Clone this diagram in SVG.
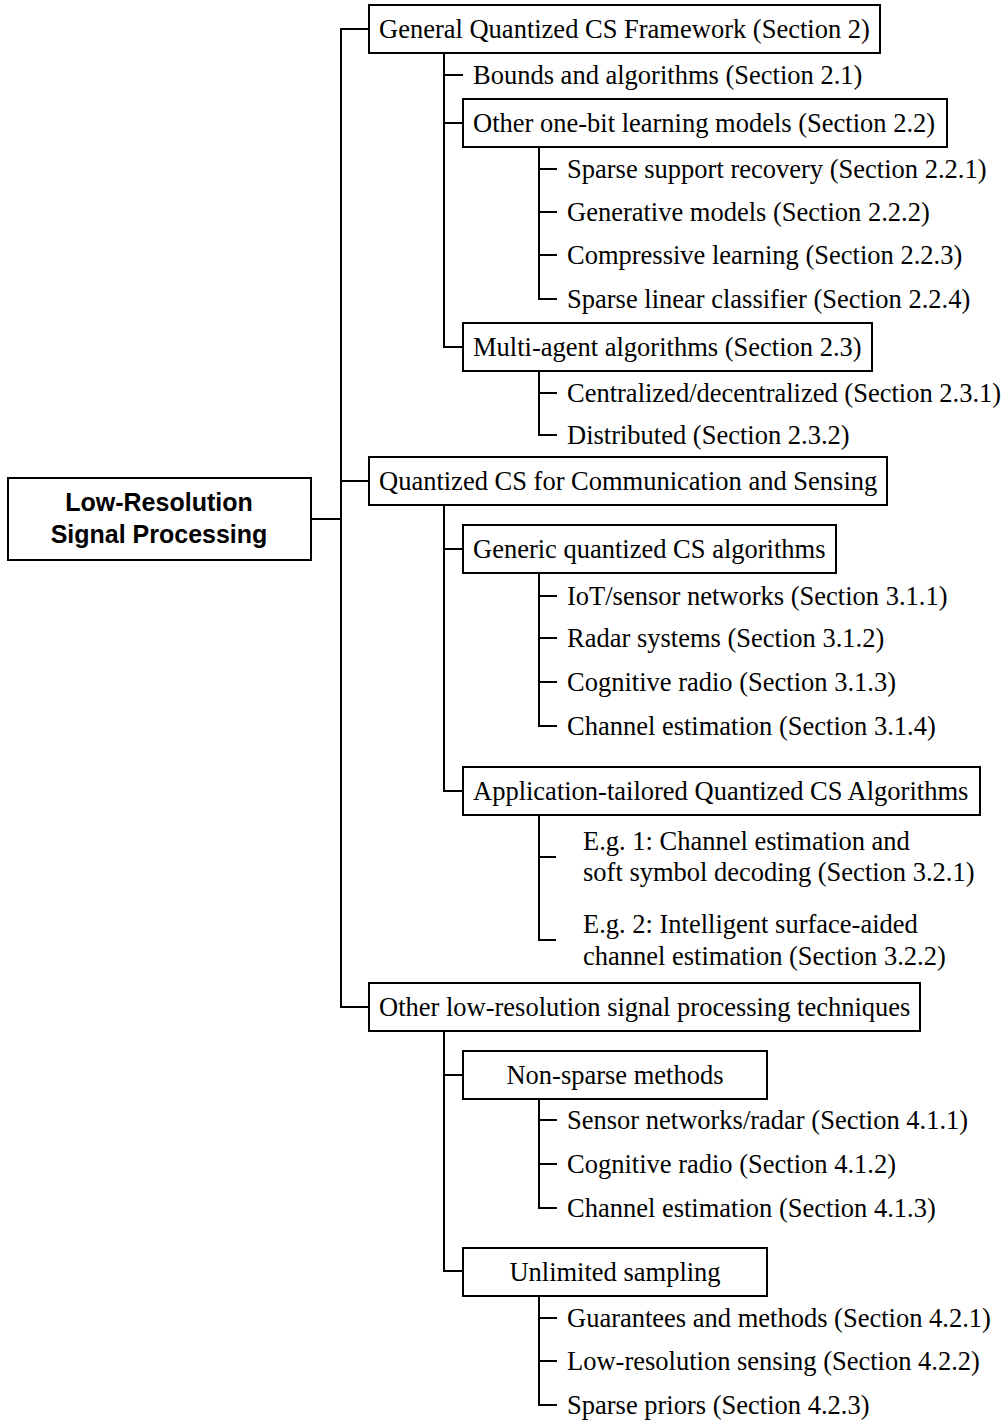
<svg xmlns="http://www.w3.org/2000/svg" width="1006" height="1420" viewBox="0 0 1006 1420">
<style>
.box{fill:#fff;stroke:#000;stroke-width:2}
.ln{fill:none;stroke:#000;stroke-width:2}
.t{font-family:"Liberation Serif","Times New Roman",serif;font-size:26.5px;fill:#000}
.tc{font-family:"Liberation Serif","Times New Roman",serif;font-size:26.5px;fill:#000;text-anchor:middle}
.root{font-family:"Liberation Sans",Arial,sans-serif;font-size:25px;font-weight:bold;fill:#000;text-anchor:middle}
</style>
<rect width="1006" height="1420" fill="#fff"/>
<g id="connectors" class="ln">
<path d="M311,519 H341"/>
<path d="M369,29 H341 V1007 H369"/>
<path d="M341,481 H369"/>
<path d="M444,53 V347 H463"/>
<path d="M444,75 H463"/>
<path d="M444,123 H463"/>
<path d="M539,147 V299 H557"/>
<path d="M539,169 H557"/>
<path d="M539,212 H557"/>
<path d="M539,255 H557"/>
<path d="M539,371 V435 H557"/>
<path d="M539,393 H557"/>
<path d="M444,505 V791 H463"/>
<path d="M444,549 H463"/>
<path d="M539,573 V726 H557"/>
<path d="M539,596 H557"/>
<path d="M539,638 H557"/>
<path d="M539,682 H557"/>
<path d="M539,815 V940 H556"/>
<path d="M539,857 H556"/>
<path d="M444,1031 V1271 H463"/>
<path d="M444,1075 H463"/>
<path d="M539,1099 V1208 H557"/>
<path d="M539,1120 H557"/>
<path d="M539,1164 H557"/>
<path d="M539,1296 V1405 H557"/>
<path d="M539,1318 H557"/>
<path d="M539,1361 H557"/>
</g>
<g id="root"><rect class="box" x="8" y="478" width="303" height="82"/><text class="root" x="159" y="511">Low-Resolution</text><text class="root" x="159" y="543">Signal Processing</text></g>
<g id="n2"><rect class="box" x="369" y="5" width="511" height="48"/><text class="t" x="379" y="38">General Quantized CS Framework (Section 2)</text></g>
<g id="n21"><text class="t" x="473" y="84">Bounds and algorithms (Section 2.1)</text></g>
<g id="n22"><rect class="box" x="463" y="99" width="484" height="48"/><text class="t" x="473" y="132">Other one-bit learning models (Section 2.2)</text></g>
<g id="n221"><text class="t" x="567" y="178">Sparse support recovery (Section 2.2.1)</text></g>
<g id="n222"><text class="t" x="567" y="221">Generative models (Section 2.2.2)</text></g>
<g id="n223"><text class="t" x="567" y="264">Compressive learning (Section 2.2.3)</text></g>
<g id="n224"><text class="t" x="567" y="308">Sparse linear classifier (Section 2.2.4)</text></g>
<g id="n23"><rect class="box" x="463" y="323" width="409" height="48"/><text class="t" x="473" y="356">Multi-agent algorithms (Section 2.3)</text></g>
<g id="n231"><text class="t" x="567" y="402">Centralized/decentralized (Section 2.3.1)</text></g>
<g id="n232"><text class="t" x="567" y="444">Distributed (Section 2.3.2)</text></g>
<g id="n3"><rect class="box" x="369" y="457" width="518" height="48"/><text class="t" x="379" y="490">Quantized CS for Communication and Sensing</text></g>
<g id="n31"><rect class="box" x="463" y="525" width="373" height="48"/><text class="t" x="473" y="558">Generic quantized CS algorithms</text></g>
<g id="n311"><text class="t" x="567" y="605">IoT/sensor networks (Section 3.1.1)</text></g>
<g id="n312"><text class="t" x="567" y="647">Radar systems (Section 3.1.2)</text></g>
<g id="n313"><text class="t" x="567" y="691">Cognitive radio (Section 3.1.3)</text></g>
<g id="n314"><text class="t" x="567" y="735">Channel estimation (Section 3.1.4)</text></g>
<g id="n32"><rect class="box" x="463" y="767" width="517" height="48"/><text class="t" x="473" y="800">Application-tailored Quantized CS Algorithms</text></g>
<g id="n321"><text class="t" x="583" y="850">E.g. 1: Channel estimation and</text><text class="t" x="583" y="881">soft symbol decoding (Section 3.2.1)</text></g>
<g id="n322"><text class="t" x="583" y="933">E.g. 2: Intelligent surface-aided</text><text class="t" x="583" y="965">channel estimation (Section 3.2.2)</text></g>
<g id="n4"><rect class="box" x="369" y="983" width="551" height="48"/><text class="t" x="379" y="1016">Other low-resolution signal processing techniques</text></g>
<g id="n41"><rect class="box" x="463" y="1051" width="304" height="48"/><text class="tc" x="615" y="1084">Non-sparse methods</text></g>
<g id="n411"><text class="t" x="567" y="1129">Sensor networks/radar (Section 4.1.1)</text></g>
<g id="n412"><text class="t" x="567" y="1173">Cognitive radio (Section 4.1.2)</text></g>
<g id="n413"><text class="t" x="567" y="1217">Channel estimation (Section 4.1.3)</text></g>
<g id="n42"><rect class="box" x="463" y="1248" width="304" height="48"/><text class="tc" x="615" y="1281">Unlimited sampling</text></g>
<g id="n421"><text class="t" x="567" y="1327">Guarantees and methods (Section 4.2.1)</text></g>
<g id="n422"><text class="t" x="567" y="1370">Low-resolution sensing (Section 4.2.2)</text></g>
<g id="n423"><text class="t" x="567" y="1414">Sparse priors (Section 4.2.3)</text></g>
</svg>
